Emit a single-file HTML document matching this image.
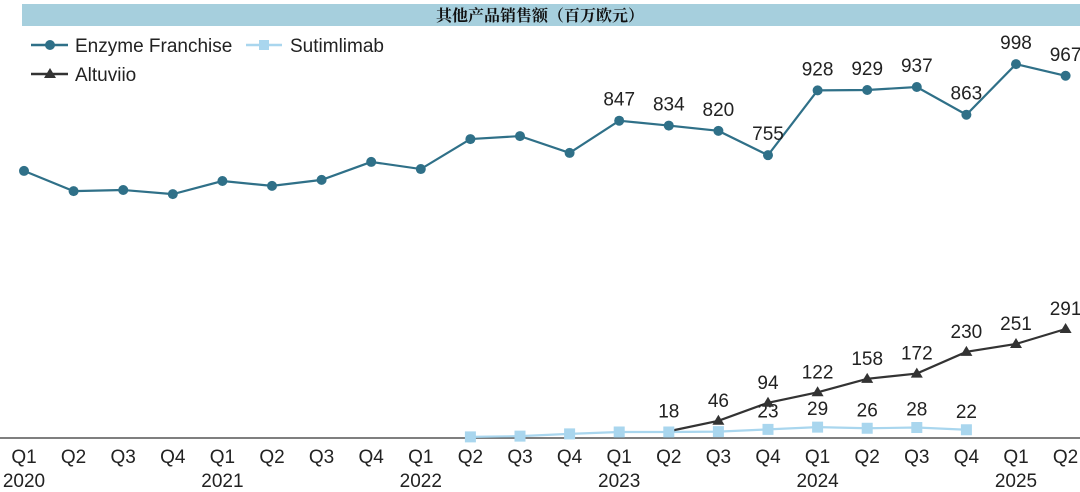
<!DOCTYPE html>
<html><head><meta charset="utf-8"><style>
body{margin:0;background:#fff;}
svg{display:block;font-family:"Liberation Sans","Noto Sans CJK SC",sans-serif;}
</style></head><body>
<svg id="c" width="1080" height="492">
<rect x="22" y="4" width="1058" height="22" fill="#a6cfdd"/>
<text x="540" y="21" text-anchor="middle" font-size="16" font-weight="bold" font-family="'Noto Serif CJK SC',serif" fill="#111">其他产品销售额（百万欧元）</text>
<g>
<g><line x1="31" y1="45" x2="68" y2="45" stroke="#2f7088" stroke-width="2.5"/><circle cx="50" cy="45" r="5" fill="#2f7088"/><text x="75" y="52" font-size="19" fill="#222">Enzyme Franchise</text></g>
<g><line x1="246" y1="45" x2="282" y2="45" stroke="#a9d6ee" stroke-width="2.5"/><rect x="259" y="40" width="10" height="10" fill="#a9d6ee"/><text x="290" y="52" font-size="19" fill="#222">Sutimlimab</text></g>
<g><line x1="31" y1="74" x2="68" y2="74" stroke="#333" stroke-width="2.5"/><polygon points="50,68 56,78 44,78" fill="#333"/><text x="75" y="81" font-size="19" fill="#222">Altuviio</text></g>
</g>
<g id="plot"></g>
</svg>
<script>
const quarters=["Q1","Q2","Q3","Q4","Q1","Q2","Q3","Q4","Q1","Q2","Q3","Q4","Q1","Q2","Q3","Q4","Q1","Q2","Q3","Q4","Q1","Q2"];
const years=["2020","","","","2021","","","","2022","","","","2023","","","","2024","","","","2025",""];
const enzyme=[713,659,662,651,686,673,689,737,718,798,806,761,847,834,820,755,928,929,937,863,998,967];
const enzymeLabels=[null,null,null,null,null,null,null,null,null,null,null,null,"847","834","820","755","928","929","937","863","998","967"];
const sutim=[null,null,null,null,null,null,null,null,null,3,5,11,16,16,17,23,29,26,28,22,null,null];
const sutimLabels=[null,null,null,null,null,null,null,null,null,null,null,null,null,null,null,"23","29","26","28","22",null,null];
const altu=[null,null,null,null,null,null,null,null,null,null,null,null,null,18,46,94,122,158,172,230,251,291];
const NS="http://www.w3.org/2000/svg";
const g=document.getElementById('plot');
const X=i=>24+i*49.6;
const Y=v=>438-v*0.3746;
const FS=19;
function mk(t,a,p){const e=document.createElementNS(NS,t);for(const k in a)e.setAttribute(k,a[k]);(p||g).appendChild(e);return e;}
const ax=mk('line',{x1:0,y1:438,x2:1080,y2:438,stroke:'#555','stroke-width':1.5});


quarters.forEach((q,i)=>{
 const t=mk('text',{x:X(i),y:463,'text-anchor':'middle','font-size':FS,fill:'#222'});t.textContent=q;
 
 
 if(years[i]){const y=mk('text',{x:X(i),y:487,'text-anchor':'middle','font-size':FS,fill:'#222'});y.textContent=years[i];
 
 }
});
function series(vals,color,name){
 let pts=[];vals.forEach((v,i)=>{if(v!==null)pts.push(X(i)+','+Y(v));});
 const l=mk('polyline',{points:pts.join(' '),fill:'none',stroke:color,'stroke-width':2.2});
 
 
}
series(sutim,'#a9d6ee','sutimlimab');
series(altu,'#333','altuviio');
series(enzyme,'#2f7088','enzyme');
enzyme.forEach((v,i)=>{const c=mk('circle',{cx:X(i),cy:Y(v),r:5,fill:'#2f7088'});
 
 
 if(enzymeLabels[i]){const t=mk('text',{x:X(i),y:Y(v)-15,'text-anchor':'middle','font-size':FS,fill:'#222'});t.textContent=enzymeLabels[i];
 
 }
});
sutim.forEach((v,i)=>{if(v===null)return;const r=mk('rect',{x:X(i)-5.5,y:Y(v)-5.5,width:11,height:11,fill:'#a9d6ee'});
 
 
 if(sutimLabels[i]){const t=mk('text',{x:X(i),y:Y(v)-12,'text-anchor':'middle','font-size':FS,fill:'#222'});t.textContent=sutimLabels[i];
 
 }
});
altu.forEach((v,i)=>{if(v===null)return;const x=X(i),y=Y(v);
 if(i>13){const p=mk('polygon',{points:`${x},${y-6} ${x+6},${y+4} ${x-6},${y+4}`,fill:'#333'});
 
 }
 const t=mk('text',{x:x,y:y-14,'text-anchor':'middle','font-size':FS,fill:'#222'});t.textContent=String(v);
 
 
});
</script>
</body></html>
